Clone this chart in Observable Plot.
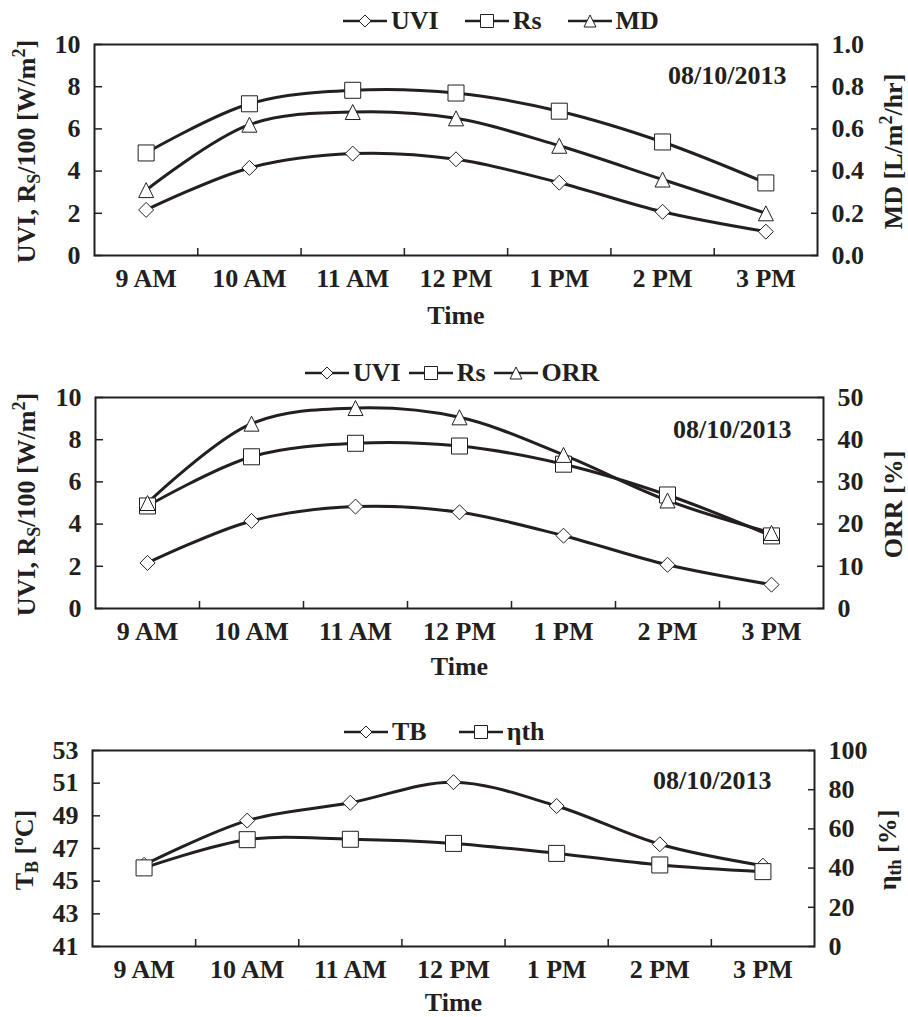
<!DOCTYPE html>
<html>
<head>
<meta charset="utf-8">
<script src="https://cdn.jsdelivr.net/npm/d3@7"></script>
<script src="https://cdn.jsdelivr.net/npm/@observablehq/plot@0.6"></script>
<style>
  body { margin: 0; background: #fff; }
  #page {
    position: relative; width: 908px; height: 1017px; overflow: hidden;
    font-family: "Liberation Serif", "Times New Roman", serif; font-weight: bold; color: #231f20;
  }
  .legend { position: absolute; display: flex; align-items: center; height: 26px; font-size: 26px; line-height: 26px; white-space: nowrap; }
  .legend .item { display: flex; align-items: center; }
  .legend .item svg { display: block; }
  .legend .item span { margin-left: 4px; }
  .panel { position: absolute; left: 0; }
</style>
</head>
<body>
<div id="page"></div>
<script>
// Hourly readings, 9 AM to 3 PM
const times = ["9 AM", "10 AM", "11 AM", "12 PM", "1 PM", "2 PM", "3 PM"];
const uvi = [2.16, 4.15, 4.83, 4.56, 3.45, 2.07, 1.13];
const rs = [486, 719, 783, 770, 684, 538, 344];          // solar radiation, W/m²
const md = [0.31, 0.62, 0.68, 0.65, 0.52, 0.36, 0.20];   // L/m²/hr
const orr = [25.0, 43.8, 47.5, 45.3, 36.4, 25.6, 17.9];  // %
const tb = [46.0, 48.71, 49.8, 51.06, 49.6, 47.26, 45.95]; // °C
const etaTh = [40.1, 54.5, 54.7, 52.6, 47.5, 41.6, 38.2];  // %
const dateLabel = "08/10/2013";

// Axis ticks
const uviTicks = [0, 2, 4, 6, 8, 10];
const mdTicks = [0, 0.2, 0.4, 0.6, 0.8, 1.0];
const orrTicks = [0, 10, 20, 30, 40, 50];
const tbTicks = [41, 43, 45, 47, 49, 51, 53];
const etaTicks = [0, 20, 40, 60, 80, 100];

const ink = "#231f20";
const idx = times.map((_, i) => i);
const bounds = idx.slice(1).map(i => i - 0.5);

// Marker shapes (centred on their bounding box)
const shapes = {
  diamond: {draw(c, s) { const h = Math.sqrt(s / Math.PI); c.moveTo(0, -h); c.lineTo(h, 0); c.lineTo(0, h); c.lineTo(-h, 0); c.closePath(); }},
  square: {draw(c, s) { const h = Math.sqrt(s / Math.PI); c.rect(-h, -h, 2 * h, 2 * h); }},
  triangle: {draw(c, s) { const h = Math.sqrt(s / Math.PI); c.moveTo(0, -h); c.lineTo(h, h); c.lineTo(-h, h); c.closePath(); }}
};
const swatchPath = {
  diamond: h => `M0,${-h}L${h},0L0,${h}L${-h},0Z`,
  square: h => `M${-h},${-h}H${h}V${h}H${-h}Z`,
  triangle: h => `M0,${-h}L${h},${h}L${-h},${h}Z`
};

const page = document.getElementById("page");

function legend(items, left, top, gap) {
  const div = document.createElement("div");
  div.className = "legend";
  div.style.left = left + "px";
  div.style.top = top + "px";
  div.innerHTML = items.map((it, k) =>
    `<span class="item" style="margin-left:${k ? gap : 0}px">` +
    `<svg width="44" height="26"><line x1="0" x2="44" y1="13" y2="13" stroke="${ink}" stroke-width="2.5"/>` +
    `<path transform="translate(22,13)" d="${swatchPath[it.shape](it.shape === "square" ? 6.5 : 6)}" fill="#fff" stroke="${ink}" stroke-width="1"/></svg>` +
    `<span>${it.name}</span></span>`).join("");
  page.appendChild(div);
}

function title(svg, parts, x, y) {
  const t = d3.select(svg).append("text")
    .attr("transform", `translate(${x},${y}) rotate(-90)`)
    .attr("text-anchor", "middle")
    .attr("fill", ink)
    .attr("font-size", 26);
  let shift = 0;
  for (const p of parts) {
    const target = p.sub ? 5 : p.sup ? -10 : 0;
    const ts = t.append("tspan").text(p.t).attr("dy", target - shift);
    if (p.sub || p.sup) ts.attr("font-size", 18);
    shift = target;
  }
}

function panel(cfg) {
  const [y0, y1] = cfg.yDomain;
  const [r0, r1] = cfg.rightDomain;
  const toLeft = v => y0 + (v - r0) * (y1 - y0) / (r1 - r0);
  const marks = [
    Plot.frame({stroke: ink, strokeWidth: 2}),
    // inward tick marks
    Plot.axisY(cfg.leftTicks, {anchor: "left", tickSize: -8, fill: "none", stroke: ink, strokeWidth: 1.5, label: null}),
    Plot.axisY(cfg.rightTicks, {anchor: "right", y: toLeft, tickSize: -7, fill: "none", stroke: ink, strokeWidth: 1.5, label: null}),
    Plot.axisX(bounds, {anchor: "bottom", tickSize: -7, fill: "none", stroke: ink, strokeWidth: 1.5, label: null}),
    // tick labels
    Plot.axisY(cfg.leftTicks, {anchor: "left", tickSize: 0, tickPadding: 14, fill: ink, label: null, tickFormat: cfg.leftFormat}),
    Plot.axisY(cfg.rightTicks, {anchor: "right", y: toLeft, tickSize: 0, tickPadding: 14, fill: ink, label: null, tickFormat: cfg.rightFormat}),
    Plot.axisX(idx, {anchor: "bottom", tickSize: 0, tickPadding: 13, fill: ink, label: null, tickFormat: i => times[i]})
  ];
  const yOf = s => i => s.right ? toLeft(s.values[i]) : s.values[i] / (s.scale || 1);
  for (const s of cfg.series) {
    marks.push(Plot.line(idx, {x: i => i, y: yOf(s), curve: "catmull-rom", stroke: ink, strokeWidth: 3}));
  }
  for (const s of cfg.series) {
    marks.push(Plot.dot(idx, {x: i => i, y: yOf(s), symbol: shapes[s.shape], r: s.shape === "square" ? 8 : 7.5, fill: "#fff", stroke: ink, strokeWidth: 1}));
  }
  marks.push(Plot.text([dateLabel], {frameAnchor: "top-right", dx: cfg.dateDx, dy: cfg.dateDy, textAnchor: "end", lineAnchor: "middle", fill: ink}));
  marks.push(Plot.text(["Time"], {frameAnchor: "bottom", dy: cfg.timeDy, lineAnchor: "middle", fill: ink}));

  const m = cfg.margins;
  const svg = Plot.plot({
    width: 908,
    height: cfg.height,
    marginTop: m[0], marginRight: m[1], marginBottom: m[2], marginLeft: m[3],
    x: {domain: [-0.5, times.length - 0.5]},
    y: {domain: cfg.yDomain},
    style: {fontFamily: '"Liberation Serif", "Times New Roman", serif', fontSize: "26px", fontWeight: "bold", color: ink, background: "transparent", overflow: "visible"},
    marks
  });
  const innerH = cfg.height - m[0] - m[2];
  const midY = m[0] + innerH / 2 + 2;
  title(svg, cfg.leftTitle, m[3] - cfg.leftTitleGap, midY);
  title(svg, cfg.rightTitle, 908 - m[1] + cfg.rightTitleGap, midY);
  svg.classList.add("panel");
  svg.style.top = cfg.top + "px";
  page.appendChild(svg);
  legend(cfg.legend, cfg.legendLeft, cfg.legendTop, cfg.legendGap);
}

const uviTitle = [{t: "UVI, R"}, {t: "S", sub: true}, {t: "/100 [W/m"}, {t: "2", sup: true}, {t: "]"}];
const fmtInt = d3.format("d");

panel({
  top: 36, height: 299, margins: [8, 91, 80, 94],
  yDomain: [0, 10], rightDomain: [0, 1],
  leftTicks: uviTicks, leftFormat: fmtInt,
  rightTicks: mdTicks, rightFormat: d3.format(".1f"),
  series: [
    {values: uvi, shape: "diamond"},
    {values: rs, scale: 100, shape: "square"},
    {values: md, right: true, shape: "triangle"}
  ],
  dateDx: -31, dateDy: 31, timeDy: 60,
  leftTitle: uviTitle, leftTitleGap: 59,
  rightTitle: [{t: "MD [L/m"}, {t: "2", sup: true}, {t: "/hr]"}], rightTitleGap: 85,
  legend: [{name: "UVI", shape: "diamond"}, {name: "Rs", shape: "square"}, {name: "MD", shape: "triangle"}],
  legendLeft: 343, legendTop: 8, legendGap: 26
});

panel({
  top: 388, height: 300, margins: [9, 85, 80, 95],
  yDomain: [0, 10], rightDomain: [0, 50],
  leftTicks: uviTicks, leftFormat: fmtInt,
  rightTicks: orrTicks, rightFormat: fmtInt,
  series: [
    {values: uvi, shape: "diamond"},
    {values: rs, scale: 100, shape: "square"},
    {values: orr, right: true, shape: "triangle"}
  ],
  dateDx: -32, dateDy: 32, timeDy: 58,
  leftTitle: uviTitle, leftTitleGap: 60,
  rightTitle: [{t: "ORR [%]"}], rightTitleGap: 79,
  legend: [{name: "UVI", shape: "diamond"}, {name: "Rs", shape: "square"}, {name: "ORR", shape: "triangle"}],
  legendLeft: 305, legendTop: 360, legendGap: 8
});

panel({
  top: 746, height: 271, margins: [4, 94, 71, 92],
  yDomain: [41, 53], rightDomain: [0, 100],
  leftTicks: tbTicks, leftFormat: fmtInt,
  rightTicks: etaTicks, rightFormat: fmtInt,
  series: [
    {values: tb, shape: "diamond"},
    {values: etaTh, right: true, shape: "square"}
  ],
  dateDx: -43, dateDy: 30, timeDy: 56,
  leftTitle: [{t: "T"}, {t: "B", sub: true}, {t: " [ºC]"}], leftTitleGap: 59,
  rightTitle: [{t: "η"}, {t: "th", sub: true}, {t: " [%]"}], rightTitleGap: 82,
  legend: [{name: "TB", shape: "diamond"}, {name: "ηth", shape: "square"}],
  legendLeft: 344, legendTop: 719, legendGap: 32
});
</script>
</body>
</html>
